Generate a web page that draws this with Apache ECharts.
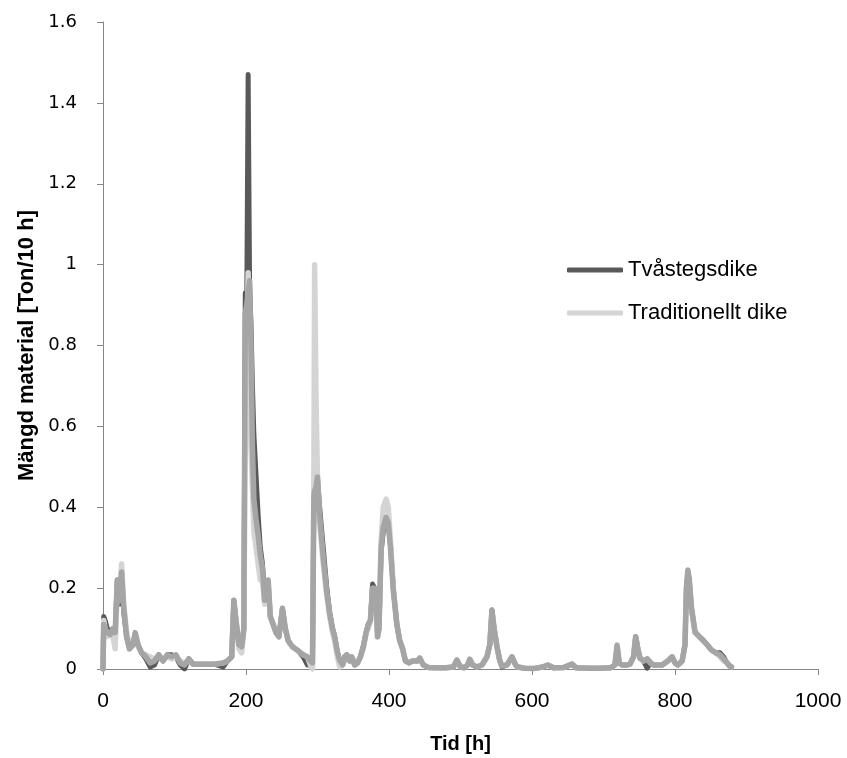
<!DOCTYPE html>
<html>
<head>
<meta charset="utf-8">
<script src="https://cdn.jsdelivr.net/npm/echarts@6/dist/echarts.min.js"></script>
<style>
  html, body { margin: 0; padding: 0; background: #fff; }
  #chart { width: 847px; height: 758px; }
</style>
</head>
<body>
<div id="chart"></div>
<script>
// time in hours
const hours = [
  0, 1, 3, 6, 10, 14, 17, 20, 23, 26,
  29, 33, 37, 42, 45, 49, 54, 60, 66, 72,
  78, 84, 90, 96, 102, 108, 114, 120, 126, 140,
  155, 168, 174, 180, 183, 186, 190, 194, 197, 199,
  201, 203, 205, 207, 209, 211, 214, 217, 220, 223,
  226, 231, 234, 238, 242, 246, 251, 255, 259, 265,
  273, 280, 286, 290, 293, 295, 296, 298, 300, 303,
  308, 313, 317, 321, 324, 328, 331, 335, 338, 341,
  345, 348, 352, 356, 360, 364, 368, 371, 374, 377,
  380, 382, 384, 386, 389, 392, 396, 399, 402, 406,
  411, 415, 419, 423, 428, 433, 440, 443, 448, 455,
  465, 480, 490, 495, 500, 505, 510, 513, 517, 523,
  530, 537, 541, 544, 547, 551, 555, 558, 565, 572,
  577, 580, 590, 602, 615, 622, 630, 645, 656, 662,
  680, 695, 710, 716, 719, 722, 726, 732, 737, 742,
  745, 748, 751, 756, 761, 766, 770, 775, 782, 790,
  796, 800, 804, 810, 814, 816, 818, 820, 823, 828,
  834, 839, 845, 851, 857, 863, 868, 872, 876, 879
];

// Tvåstegsdike (dark grey)
const tvastegsdike = [
  0, 0.13, 0.12, 0.10, 0.09, 0.10, 0.09, 0.22, 0.16, 0.24,
  0.14, 0.08, 0.05, 0.06, 0.085, 0.06, 0.04, 0.025, 0.005, 0.01,
  0.035, 0.02, 0.035, 0.035, 0.03, 0.01, 0, 0.025, 0.012, 0.012,
  0.012, 0.005, 0.02, 0.03, 0.17, 0.12, 0.06, 0.055, 0.10, 0.93,
  0.88, 1.47, 0.95, 0.85, 0.70, 0.58, 0.48, 0.38, 0.30, 0.26,
  0.18, 0.21, 0.13, 0.11, 0.09, 0.08, 0.15, 0.10, 0.07, 0.055,
  0.045, 0.03, 0.01, 0.01, 0.015, 0.44, 0.45, 0.46, 0.47, 0.40,
  0.30, 0.20, 0.14, 0.10, 0.08, 0.04, 0.02, 0.01, 0.03, 0.035,
  0.02, 0.03, 0.01, 0.015, 0.03, 0.055, 0.09, 0.11, 0.12, 0.21,
  0.20, 0.18, 0.08, 0.10, 0.29, 0.34, 0.37, 0.36, 0.31, 0.20,
  0.11, 0.07, 0.05, 0.02, 0.015, 0.02, 0.02, 0.027, 0.01, 0.004,
  0.003, 0.003, 0.005, 0.022, 0.005, 0.003, 0.01, 0.024, 0.01, 0.005,
  0.01, 0.03, 0.06, 0.146, 0.10, 0.055, 0.02, 0.005, 0.01, 0.03,
  0.01, 0.005, 0.002, 0.001, 0.005, 0.01, 0.003, 0.004, 0.012, 0.003,
  0.002, 0.002, 0.003, 0.01, 0.055, 0.015, 0.01, 0.01, 0.012, 0.03,
  0.08, 0.05, 0.027, 0.02, 0.002, 0.015, 0.01, 0.01, 0.01, 0.02,
  0.03, 0.015, 0.01, 0.02, 0.06, 0.20, 0.24, 0.22, 0.15, 0.09,
  0.08, 0.07, 0.06, 0.047, 0.04, 0.04, 0.03, 0.017, 0.008, 0.005
];

// Traditionellt dike (light grey)
const traditionellt = [
  0, 0.12, 0.10, 0.08, 0.09, 0.08, 0.05, 0.20, 0.18, 0.26,
  0.16, 0.09, 0.06, 0.06, 0.085, 0.055, 0.04, 0.035, 0.03, 0.025,
  0.03, 0.025, 0.03, 0.025, 0.03, 0.02, 0.015, 0.02, 0.012, 0.012,
  0.012, 0.015, 0.02, 0.03, 0.16, 0.12, 0.05, 0.04, 0.10, 0.60,
  0.67, 0.98, 0.75, 0.55, 0.45, 0.34, 0.30, 0.26, 0.22, 0.22,
  0.16, 0.21, 0.13, 0.11, 0.09, 0.08, 0.14, 0.10, 0.07, 0.055,
  0.045, 0.035, 0.03, 0.01, 0, 0.50, 1.00, 0.66, 0.47, 0.36,
  0.26, 0.18, 0.13, 0.09, 0.07, 0.03, 0.005, 0.01, 0.02, 0.03,
  0.02, 0.03, 0.01, 0.015, 0.03, 0.05, 0.09, 0.10, 0.12, 0.19,
  0.19, 0.17, 0.08, 0.10, 0.32, 0.40, 0.42, 0.40, 0.32, 0.20,
  0.11, 0.07, 0.05, 0.02, 0.015, 0.02, 0.02, 0.027, 0.01, 0.004,
  0.003, 0.003, 0.005, 0.022, 0.005, 0.003, 0.01, 0.024, 0.01, 0.005,
  0.01, 0.03, 0.06, 0.14, 0.10, 0.055, 0.02, 0.008, 0.01, 0.03,
  0.01, 0.005, 0.002, 0.001, 0.005, 0.01, 0.003, 0.004, 0.012, 0.003,
  0.002, 0.002, 0.003, 0.01, 0.06, 0.015, 0.01, 0.01, 0.012, 0.03,
  0.08, 0.05, 0.027, 0.02, 0.025, 0.015, 0.01, 0.01, 0.01, 0.02,
  0.03, 0.015, 0.01, 0.02, 0.06, 0.20, 0.23, 0.21, 0.15, 0.09,
  0.08, 0.07, 0.06, 0.047, 0.04, 0.03, 0.02, 0.017, 0.008, 0.005
];

// third (unlabelled) mid grey series drawn on top
const medel = [
  0, 0.11, 0.10, 0.09, 0.085, 0.10, 0.09, 0.22, 0.17, 0.24,
  0.15, 0.08, 0.05, 0.06, 0.09, 0.06, 0.04, 0.03, 0.015, 0.02,
  0.035, 0.02, 0.035, 0.03, 0.035, 0.015, 0.01, 0.025, 0.012, 0.012,
  0.012, 0.015, 0.02, 0.03, 0.17, 0.12, 0.06, 0.055, 0.10, 0.88,
  0.90, 0.93, 0.96, 0.80, 0.55, 0.42, 0.37, 0.33, 0.28, 0.25,
  0.17, 0.22, 0.13, 0.11, 0.09, 0.08, 0.15, 0.10, 0.07, 0.055,
  0.045, 0.035, 0.03, 0.02, 0.015, 0.43, 0.44, 0.45, 0.475, 0.38,
  0.277, 0.19, 0.138, 0.10, 0.08, 0.04, 0.022, 0.01, 0.03, 0.035,
  0.02, 0.03, 0.01, 0.015, 0.03, 0.055, 0.09, 0.11, 0.12, 0.20,
  0.20, 0.18, 0.08, 0.10, 0.30, 0.35, 0.375, 0.36, 0.30, 0.195,
  0.11, 0.07, 0.05, 0.02, 0.015, 0.02, 0.02, 0.027, 0.01, 0.004,
  0.003, 0.003, 0.005, 0.022, 0.005, 0.003, 0.01, 0.024, 0.01, 0.005,
  0.01, 0.03, 0.06, 0.146, 0.10, 0.055, 0.02, 0.008, 0.01, 0.03,
  0.01, 0.005, 0.002, 0.001, 0.005, 0.01, 0.003, 0.004, 0.012, 0.003,
  0.002, 0.002, 0.003, 0.01, 0.058, 0.015, 0.01, 0.01, 0.012, 0.03,
  0.08, 0.05, 0.027, 0.02, 0.025, 0.015, 0.01, 0.01, 0.01, 0.02,
  0.03, 0.015, 0.01, 0.02, 0.06, 0.20, 0.245, 0.22, 0.153, 0.092,
  0.08, 0.072, 0.06, 0.047, 0.04, 0.035, 0.025, 0.017, 0.008, 0.005
];

function pairs(values) {
  const arr = [];
  for (let i = 0; i < hours.length; i++) {
    arr.push([hours[i], values[i]]);
  }
  return arr;
}

function lineSeries(name, values, color, width, z) {
  return {
    name: name,
    type: 'line',
    data: pairs(values),
    symbol: 'none',
    smooth: false,
    z: z,
    lineStyle: {
      color: color,
      width: width,
      cap: 'round',
      join: 'round'
    },
    itemStyle: {
      color: color
    }
  };
}

const chartDom = echarts.init(document.getElementById('chart'), null, { renderer: 'canvas' });
const axisColor = '#868686';
const option = {
  animation: false,
  backgroundColor: '#fff',
  grid: {
    left: 103,
    right: 29,
    top: 22,
    bottom: 89,
    outerBoundsMode: 'none'
  },
  legend: {
    data: [
      { name: 'Tvåstegsdike', icon: 'roundRect' },
      { name: 'Traditionellt dike', icon: 'roundRect' }
    ],
    orient: 'vertical',
    left: 562,
    top: 254,
    itemWidth: 56,
    itemHeight: 5,
    itemGap: 21,
    selectedMode: false,
    textStyle: {
      fontFamily: 'Liberation Sans',
      fontSize: 22,
      color: '#000'
    }
  },
  xAxis: {
    type: 'value',
    min: 0,
    max: 1000,
    interval: 200,
    name: 'Tid [h]',
    nameLocation: 'middle',
    nameGap: 65,
    nameTextStyle: {
      fontFamily: 'Liberation Sans',
      fontWeight: 'bold',
      fontSize: 20,
      color: '#000'
    },
    axisLine: { show: true, lineStyle: { color: axisColor, width: 1 } },
    axisTick: { show: true, inside: false, length: 6, lineStyle: { color: axisColor } },
    splitLine: { show: false },
    axisLabel: {
      margin: 22,
      fontFamily: 'Liberation Sans',
      fontSize: 21,
      color: '#000',
      formatter: function (v) {
        return String(v);
      }
    }
  },
  yAxis: {
    type: 'value',
    min: 0,
    max: 1.6,
    interval: 0.2,
    name: 'Mängd material [Ton/10 h]',
    nameLocation: 'middle',
    nameGap: 62,
    nameRotate: 90,
    nameTextStyle: {
      fontFamily: 'Liberation Sans',
      fontWeight: 'bold',
      fontSize: 22,
      color: '#000'
    },
    axisLine: { show: true, lineStyle: { color: axisColor, width: 1 } },
    axisTick: { show: true, inside: false, length: 6, lineStyle: { color: axisColor } },
    splitLine: { show: false },
    axisLabel: {
      margin: 26,
      fontFamily: 'DejaVu Sans',
      fontSize: 18,
      color: '#000',
      formatter: function (v) {
        return String(Math.round(v * 10) / 10);
      }
    }
  },
  series: [
    lineSeries('Tvåstegsdike', tvastegsdike, '#595959', 5, 2),
    lineSeries('Traditionellt dike', traditionellt, '#d4d4d4', 5.5, 3),
    lineSeries('medel', medel, '#a5a5a5', 5.5, 4)
  ]
};
chartDom.setOption(option);
</script>
</body>
</html>
